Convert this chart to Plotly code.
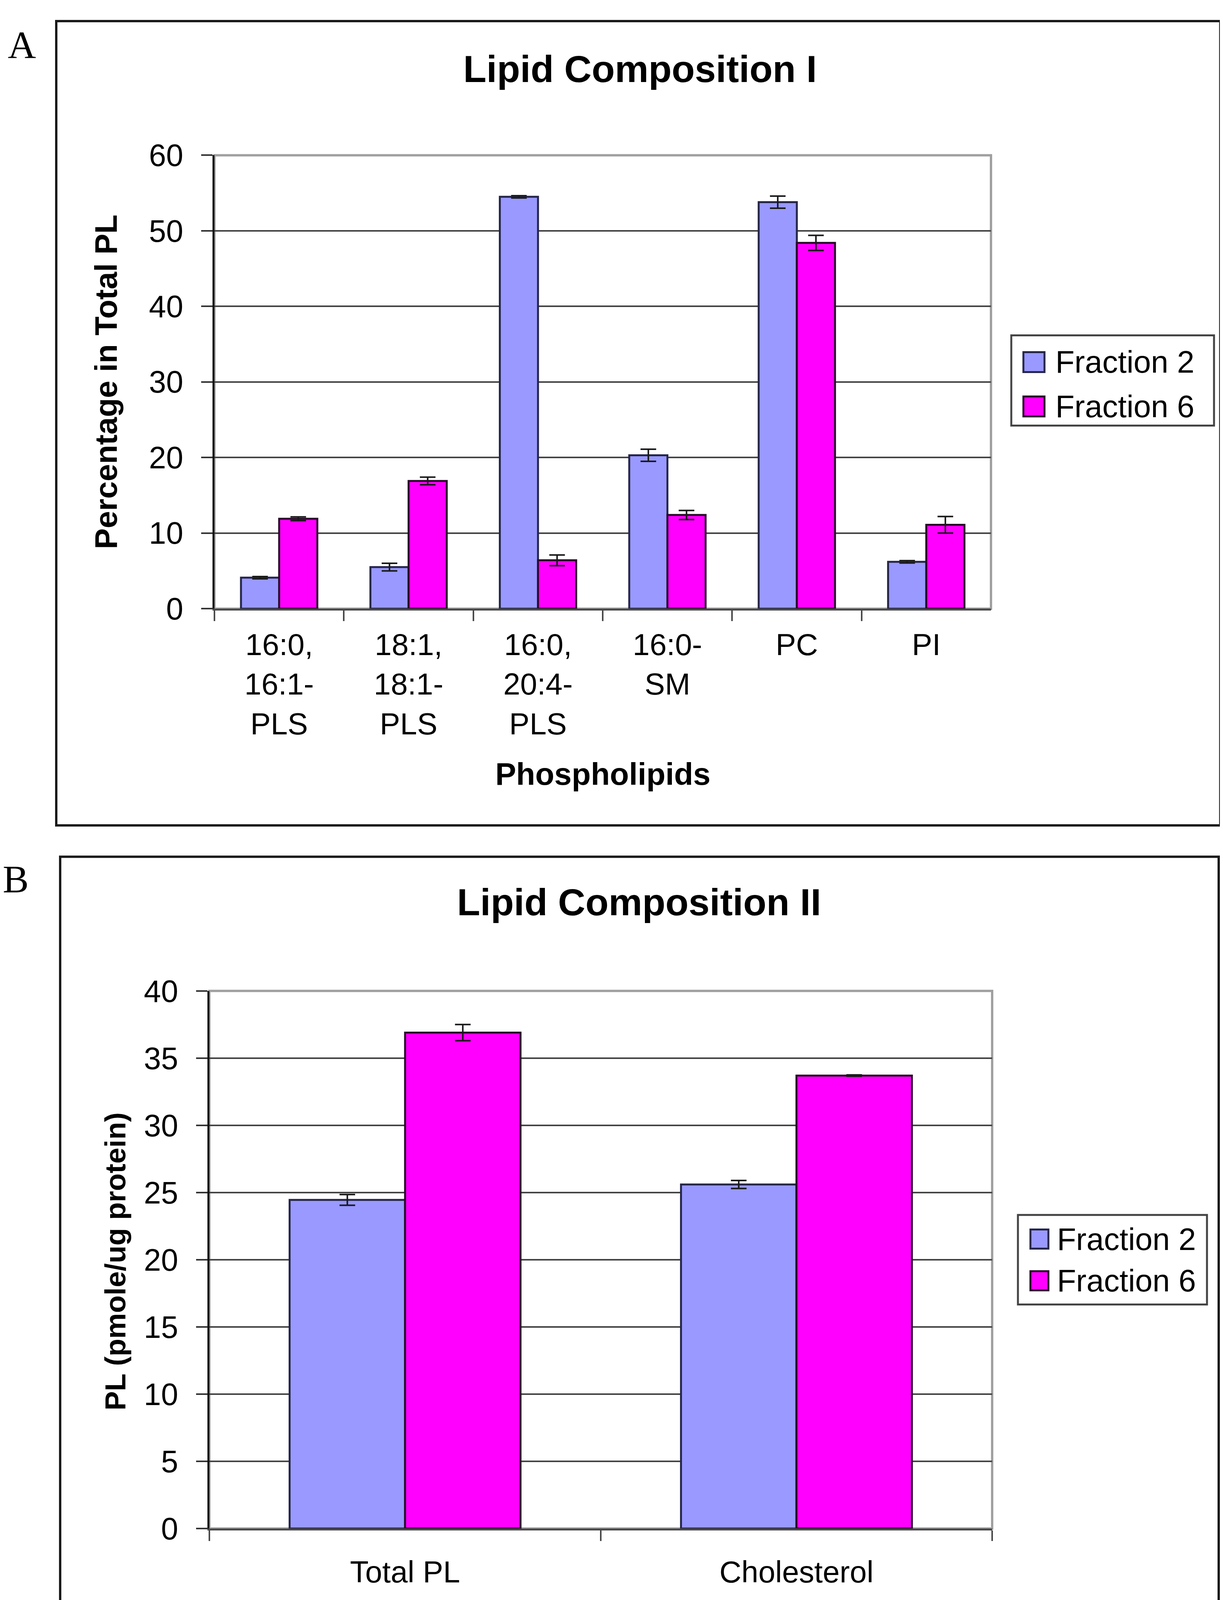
import plotly.graph_objects as go

# the page body has an 8 px margin, so the figure is kept 16 px smaller than the window
PAD = 8
W, H = 3131 - 2 * PAD, 4190 - 2 * PAD

# panel A: phospholipid composition (percentage in total PL)
categories_a = ["16:0,<br>16:1-<br>PLS", "18:1,<br>18:1-<br>PLS", "16:0,<br>20:4-<br>PLS",
                "16:0-<br>SM", "PC", "PI"]
frac2_a = [4.1, 5.5, 54.5, 20.3, 53.8, 6.2]
frac2_a_err = [0.15, 0.5, 0.15, 0.8, 0.8, 0.15]
frac6_a = [11.9, 16.9, 6.4, 12.4, 48.4, 11.1]
frac6_a_err = [0.25, 0.5, 0.7, 0.6, 1.0, 1.1]

# panel B: lipid content (pmole/ug protein)
categories_b = ["Total PL", "Cholesterol"]
frac2_b = [24.45, 25.6]
frac2_b_err = [0.4, 0.3]
frac6_b = [36.9, 33.7]
frac6_b_err = [0.6, 0.05]

series_names = ["Fraction 2", "Fraction 6"]

BLUE = "#9999FF"
MAGENTA = "#FF00FF"
BLUE_EDGE = "#26264a"
MAGENTA_EDGE = "#2a0a2a"
FONT = "Liberation Sans"


# positions below are given in pixels of the 3131x4190 page
def px_x(v):
    return (v - PAD) / W


def px_y(v):
    return 1 - (v - PAD) / H


def err(vals):
    return dict(type="data", array=vals, visible=True, color="#1a1a1a",
                thickness=4, width=20)


fig = go.Figure()

fig.add_trace(go.Bar(x=categories_a, y=frac2_a, name=series_names[0], error_y=err(frac2_a_err),
                     marker=dict(color=BLUE, line=dict(color=BLUE_EDGE, width=5)),
                     xaxis="x", yaxis="y", showlegend=False))
fig.add_trace(go.Bar(x=categories_a, y=frac6_a, name=series_names[1], error_y=err(frac6_a_err),
                     marker=dict(color=MAGENTA, line=dict(color=MAGENTA_EDGE, width=5)),
                     xaxis="x", yaxis="y", showlegend=False))
fig.add_trace(go.Bar(x=categories_b, y=frac2_b, name=series_names[0], error_y=err(frac2_b_err),
                     marker=dict(color=BLUE, line=dict(color=BLUE_EDGE, width=5)),
                     xaxis="x2", yaxis="y2", showlegend=False))
fig.add_trace(go.Bar(x=categories_b, y=frac6_b, name=series_names[1], error_y=err(frac6_b_err),
                     marker=dict(color=MAGENTA, line=dict(color=MAGENTA_EDGE, width=5)),
                     xaxis="x2", yaxis="y2", showlegend=False))

xaxis_common = dict(type="category", showline=True, linecolor="#4a4a4a", linewidth=5,
                    ticks="outside", tickson="boundaries", ticklen=27, tickwidth=4,
                    tickcolor="#4a4a4a", showgrid=False, zeroline=False,
                    tickfont=dict(family=FONT, size=78, color="black"))
yaxis_common = dict(showline=True, linecolor="#111", linewidth=5, ticks="outside",
                    ticklen=29, tickwidth=4, tickcolor="#333", showgrid=True,
                    gridcolor="#444", gridwidth=4, zeroline=False,
                    tickfont=dict(family=FONT, size=79, color="black"),
                    ticklabelstandoff=30)

fig.update_layout(
    width=W, height=H,
    margin=dict(l=0, r=0, t=0, b=0),
    paper_bgcolor="white", plot_bgcolor="white",
    barmode="group", bargap=0.41, bargroupgap=0,
    xaxis=dict(domain=[px_x(549), px_x(2537)], anchor="y", range=[-0.5, 5.5],
               ticklabelstandoff=20, **xaxis_common),
    yaxis=dict(domain=[px_y(1547), px_y(361)], anchor="x", range=[0, 60], dtick=10,
               **yaxis_common),
    xaxis2=dict(domain=[px_x(536), px_x(2540)], anchor="y2", range=[-0.5, 1.5],
                ticklabelstandoff=40, **xaxis_common),
    yaxis2=dict(domain=[px_y(3953), px_y(2547)], anchor="x2", range=[0, 40], dtick=5,
                **yaxis_common),
    showlegend=False,
)

shapes = []
# panel frames
shapes.append(dict(type="rect", xref="paper", yref="paper", x0=px_x(144), x1=px_x(3124),
                   y0=px_y(2114), y1=px_y(10), line=dict(color="#1a1a1a", width=6)))
shapes.append(dict(type="rect", xref="paper", yref="paper", x0=px_x(154), x1=px_x(3120),
                   y0=px_y(4178), y1=px_y(2196), line=dict(color="#1a1a1a", width=6)))
# plot area borders (Excel style grey)
for ax in ["", "2"]:
    shapes.append(dict(type="rect", xref=f"x{ax} domain", yref=f"y{ax} domain",
                       x0=0, x1=1, y0=0, y1=1, layer="below",
                       line=dict(color="#a0a0a0", width=6)))

annotations = []


def text(x, y, s, size, bold=False, family=FONT, angle=0):
    annotations.append(dict(xref="paper", yref="paper", x=px_x(x), y=px_y(y),
                            text=f"<b>{s}</b>" if bold else s, showarrow=False,
                            xanchor="center", yanchor="middle", textangle=angle,
                            font=dict(family=family, size=size, color="black")))


def legend_box(x0, y0, x1, y1, rows, sw_x, sw_w, sw_h, text_x):
    shapes.append(dict(type="rect", xref="paper", yref="paper", x0=px_x(x0), x1=px_x(x1),
                       y0=px_y(y1), y1=px_y(y0), line=dict(color="#444", width=5)))
    for (ry, name, color, edge) in rows:
        shapes.append(dict(type="rect", xref="paper", yref="paper",
                           x0=px_x(sw_x), x1=px_x(sw_x + sw_w),
                           y0=px_y(ry + sw_h / 2), y1=px_y(ry - sw_h / 2),
                           fillcolor=color, line=dict(color=edge, width=5)))
        annotations.append(dict(xref="paper", yref="paper", x=px_x(text_x), y=px_y(ry),
                                text=name, showarrow=False, xanchor="left", yanchor="middle",
                                font=dict(family=FONT, size=80, color="black")))


# panel A texts
text(56, 73, "A", 100, family="Liberation Serif")
text(1638, 135, "Lipid Composition I", 97, bold=True)
text(272, 954, "Percentage in Total PL", 80, bold=True, angle=-90)
text(1543, 1980, "Phospholipids", 80, bold=True)
legend_box(2589, 832, 3108, 1068,
           [(902, series_names[0], BLUE, BLUE_EDGE), (1018, series_names[1], MAGENTA, MAGENTA_EDGE)],
           2620, 54, 52, 2700)

# panel B texts
text(40, 2254, "B", 100, family="Liberation Serif")
text(1636, 2315, "Lipid Composition II", 97, bold=True)
text(296, 3255, "PL (pmole/ug protein)", 74, bold=True, angle=-90)
legend_box(2606, 3133, 3090, 3367,
           [(3196, series_names[0], BLUE, BLUE_EDGE), (3305, series_names[1], MAGENTA, MAGENTA_EDGE)],
           2638, 46, 50, 2704)

fig.update_layout(shapes=shapes, annotations=annotations)

fig.write_html("out.html")
